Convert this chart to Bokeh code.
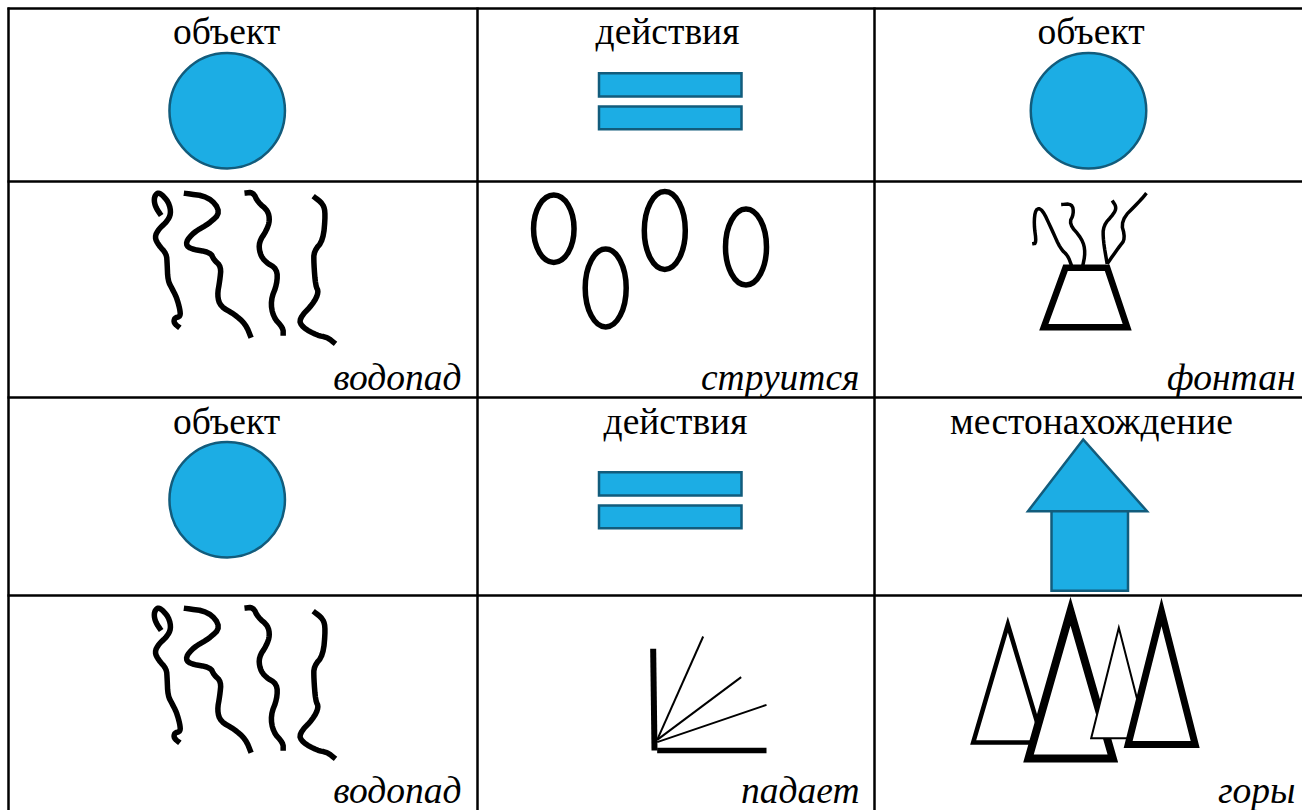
from bokeh.plotting import figure
from bokeh.models import Range1d
from bokeh.core.properties import value
from bokeh.embed import file_html
from bokeh.resources import INLINE

BLUE = "#1CADE4"
EDGE = "#125C7C"
SERIF = "Liberation Serif"

grid_x = [8, 477, 874]
grid_y = [8, 181, 397, 595]

# header labels: text, centre x, baseline y
header_labels = ["объект", "действия", "объект", "объект", "действия", "местонахождение"]
header_x = [226, 667, 1090.5, 226, 675, 1091]
header_y = [31, 31, 31, 420.5, 420.5, 420.5]
# caption labels: text, right x, baseline y
caption_labels = ["водопад", "струится", "фонтан", "водопад", "падает", "горы"]
caption_x = [461, 859, 1295, 461, 859, 1295]
caption_y = [376.5, 376.5, 376.5, 789.5, 789.5, 789.5]

circle_x = [226.7, 1088, 226.7]
circle_y = [110.2, 110.2, 499.2]
circle_d = 115.5

bar_left = [598.5, 598.5, 598.5, 598.5]
bar_right = [741, 741, 741, 741]
bar_top = [72.7, 106, 471.7, 505]
bar_bottom = [96, 128.7, 495, 527.7]

house_roof_x = [1082.7, 1027.5, 1146.5]
house_roof_y = [439, 510.7, 510.7]
house_body_x = [1051, 1127.5, 1127.5, 1051]
house_body_y = [510.7, 510.7, 590.3, 590.3]

oval_x = [553.3, 605.2, 664.3, 745.5]
oval_y = [228.2, 287.5, 230, 246.5]
oval_w = [40.5, 41, 41, 41]
oval_h = [67.5, 78, 78, 76]

# waterfall strokes, read from a 3x view
waterfall_origin = (130, 180)
waterfall_shift_y = 415
waterfall_strokes = [
    [(92,105),(75,80),(70,55),(78,38),(90,38),(115,65),(122,100),(108,125),(85,145),(72,170),(85,195),(108,220),(110,250),(112,300),(125,325),(138,350),(148,385),(150,408),(132,412),(130,428),(148,442)],
    [(160,38),(235,48),(272,95),(235,130),(190,155),(165,185),(175,205),(240,215),(250,238),(272,258),(268,300),(260,345),(270,378),(310,400),(345,430),(362,472)],
    [(342,38),(368,35),(382,65),(412,90),(418,120),(408,150),(385,185),(388,220),(405,245),(440,265),(440,310),(420,360),(428,410),(458,442),(458,466)],
    [(548,47),(578,70),(585,100),(578,180),(550,212),(550,250),(555,315),(565,335),(548,370),(505,415),(515,440),(560,465),(590,470),(615,490)],
]

fountain_origin = (1010, 180)
fountain_base = [(100,440),(350,440),(290,262),(165,262)]
fountain_streams = [
    [(65,190),(78,188),(70,130),(75,85),(95,85),(125,150),(150,205),(172,225),(183,255)],
    [(152,72),(185,70),(190,100),(175,130),(215,175),(225,215),(215,265)],
    [(305,60),(318,80),(310,100),(278,135),(278,180),(290,250)],
    [(408,38),(385,65),(330,120),(345,175),(325,200),(290,250)],
]

fall_origin = (630, 620)
fall_axes = [([(68,85),(72,390)], 6), ([(80,390),(408,390)], 5.5)]
fall_rays = [[(80,358),(218,48)], [(80,358),(332,170)], [(80,365),(408,253)]]

mountain_origin = (950, 590)
mountains = [
    ([(172,102),(68,456),(278,456)], 4.5),
    ([(360,62),(234,504),(487,504)], 8),
    ([(505,112),(422,443),(590,443)], 2),
    ([(633,64),(533,462),(734,462)], 7),
]


def to_px(points, origin, dy=0):
    xs = [origin[0] + a / 3 for a, _ in points]
    ys = [origin[1] + dy + b / 3 for _, b in points]
    return xs, ys


def round_corners(points, passes=2):
    """Soften a hand-drawn stroke's corners when drawing it."""
    pts = list(points)
    for _ in range(passes):
        out = [pts[0]]
        for a, b in zip(pts[:-1], pts[1:]):
            out.append((0.75 * a[0] + 0.25 * b[0], 0.75 * a[1] + 0.25 * b[1]))
            out.append((0.25 * a[0] + 0.75 * b[0], 0.25 * a[1] + 0.75 * b[1]))
        out.append(pts[-1])
        pts = out
    return pts


p = figure(width=1302, height=810, x_range=Range1d(0, 1302), y_range=Range1d(810, 0),
           output_backend="svg", toolbar_location=None, min_border=0,
           background_fill_color="white", border_fill_color="white", outline_line_color=None)
p.xaxis.visible = False
p.yaxis.visible = False
p.grid.visible = False

for x in grid_x:
    p.line([x, x], [7, 810], line_color="black", line_width=2.5)
for y in grid_y:
    p.line([7, 1302], [y, y], line_color="black", line_width=2.5)

p.ellipse(circle_x, circle_y, width=circle_d, height=circle_d, fill_color=BLUE,
          line_color=EDGE, line_width=2.5)
p.quad(left=bar_left, right=bar_right, top=bar_top, bottom=bar_bottom, fill_color=BLUE,
       line_color=EDGE, line_width=2.5, line_join="miter")
p.patch(house_roof_x, house_roof_y, fill_color=BLUE, line_color=EDGE, line_width=2.5, line_join="miter")
p.patch(house_body_x, house_body_y, fill_color=BLUE, line_color=EDGE, line_width=2.5, line_join="miter")

p.ellipse(oval_x, oval_y, width=oval_w, height=oval_h, fill_color=None,
          line_color="black", line_width=5.5)

for dy in (0, waterfall_shift_y):
    for stroke in waterfall_strokes:
        xs, ys = to_px(round_corners(stroke), waterfall_origin, dy)
        p.line(xs, ys, line_color="black", line_width=5.5, line_join="round", line_cap="butt")

xs, ys = to_px(fountain_base, fountain_origin)
p.patch(xs, ys, fill_color=None, line_color="black", line_width=6.5, line_join="miter")
for stroke in fountain_streams:
    xs, ys = to_px(round_corners(stroke), fountain_origin)
    p.line(xs, ys, line_color="black", line_width=3.5, line_join="round")

for stroke, w in fall_axes:
    xs, ys = to_px(stroke, fall_origin)
    p.line(xs, ys, line_color="black", line_width=w)
for stroke in fall_rays:
    xs, ys = to_px(stroke, fall_origin)
    p.line(xs, ys, line_color="black", line_width=2)

for pts, w in mountains:
    xs, ys = to_px(pts, mountain_origin)
    p.patch(xs, ys, fill_color="white", line_color="black", line_width=w, line_join="miter")

p.text(header_x, header_y, text=header_labels, text_font=value(SERIF), text_font_size="37.5px",
       text_align="center", text_baseline="alphabetic", text_color="black")
p.text(caption_x, caption_y, text=caption_labels, text_font=value(SERIF), text_font_size="37.5px",
       text_font_style="italic", text_align="right", text_baseline="alphabetic", text_color="black")

open("out.html", "w").write(file_html(p, INLINE))
